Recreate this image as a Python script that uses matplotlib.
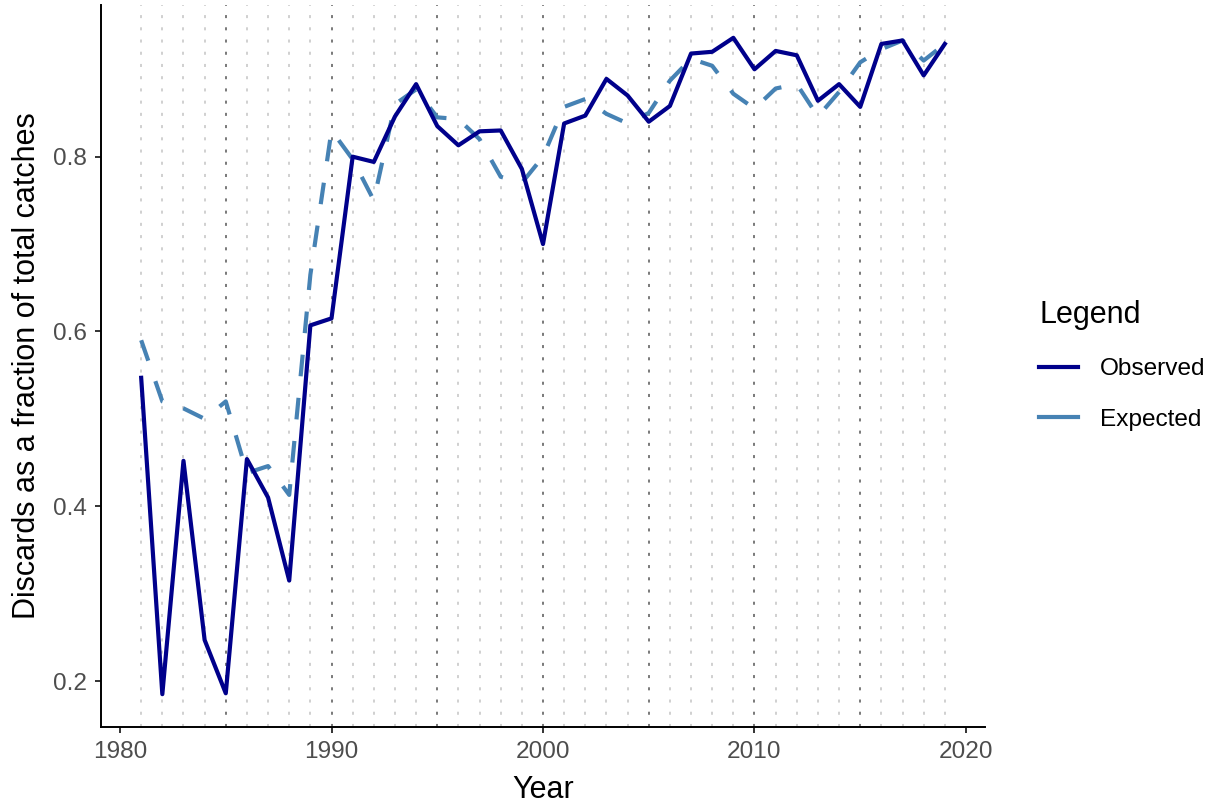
import matplotlib
matplotlib.use("Agg")
import matplotlib.pyplot as plt
from matplotlib.lines import Line2D

plt.rcParams['font.family'] = ['Liberation Sans', 'DejaVu Sans']

years = list(range(1981, 2020))
observed = [0.547, 0.185, 0.452, 0.247, 0.186, 0.454, 0.410, 0.315, 0.607, 0.615,
            0.800, 0.794, 0.846, 0.883, 0.835, 0.813, 0.829, 0.830, 0.786, 0.700,
            0.838, 0.847, 0.889, 0.870, 0.840, 0.858, 0.918, 0.920, 0.936, 0.900,
            0.921, 0.916, 0.864, 0.883, 0.857, 0.929, 0.933, 0.893, 0.929]
expected = [0.590, 0.520, 0.512, 0.500, 0.520, 0.438, 0.446, 0.413, 0.665, 0.830,
            0.797, 0.750, 0.860, 0.877, 0.845, 0.843, 0.820, 0.777, 0.770, 0.800,
            0.857, 0.866, 0.849, 0.838, 0.850, 0.887, 0.912, 0.904, 0.872, 0.855,
            0.878, 0.883, 0.846, 0.874, 0.908, 0.923, 0.933, 0.910, 0.929]
series_labels = ["Observed", "Expected"]
series_colors = ["#00008B", "#4682B4"]
x_ticks = [1980, 1990, 2000, 2010, 2020]
y_ticks = [0.2, 0.4, 0.6, 0.8]

fig = plt.figure(figsize=(12.2, 8.07), dpi=100)
ax = fig.add_axes([101/1220, 1 - 727/807, (985-101)/1220, (727-5)/807])

# vertical dotted year lines
for yr in years:
    if yr % 5 == 0:
        ax.axvline(yr, color="#555555", lw=1.1, dashes=(2, 6), zorder=1)
    else:
        ax.axvline(yr, color="#c4c4c4", lw=1.1, dashes=(2, 6), zorder=1)

ax.plot(years, expected, color=series_colors[1], lw=3.0, dashes=(5.2, 5.2),
        solid_capstyle='butt', dash_capstyle='butt', zorder=3)
ax.plot(years, observed, color=series_colors[0], lw=3.0, solid_joinstyle='round', zorder=4)

xmin, xmax = min(years), max(years)
dx = (xmax - xmin) * 0.05
ax.set_xlim(xmin - dx, xmax + dx)
allv = observed + expected
ymin, ymax = min(allv), max(allv)
dy = (ymax - ymin) * 0.05
ax.set_ylim(ymin - dy, ymax + dy)

ax.set_xticks(x_ticks)
ax.set_yticks(y_ticks)
ax.set_yticklabels([f"{v:.1f}" for v in y_ticks])

for s in ['top', 'right']:
    ax.spines[s].set_visible(False)
for s in ['left', 'bottom']:
    ax.spines[s].set_linewidth(1.4)
    ax.spines[s].set_color('black')
ax.tick_params(axis='both', length=4.5, width=1.4, color='#333333',
               labelcolor='#4D4D4D', labelsize=17.6, pad=5.5)

ax.set_xlabel("Year", fontsize=22, color='black', labelpad=9)
ax.set_ylabel("Discards as a fraction of total catches", fontsize=22, color='black', labelpad=8)

handles = [Line2D([], [], color=c, lw=3.0) for c in series_colors]
leg = fig.legend(handles, series_labels, title="Legend", loc='upper left',
                 bbox_to_anchor=(1027/1220, 1 - 288/807), bbox_transform=fig.transFigure,
                 frameon=False, fontsize=17.6, title_fontsize=22, borderpad=0,
                 handlelength=1.6, handletextpad=0.9, labelspacing=1.15,
                 alignment='left')

fig.savefig("out.png", dpi=100)
